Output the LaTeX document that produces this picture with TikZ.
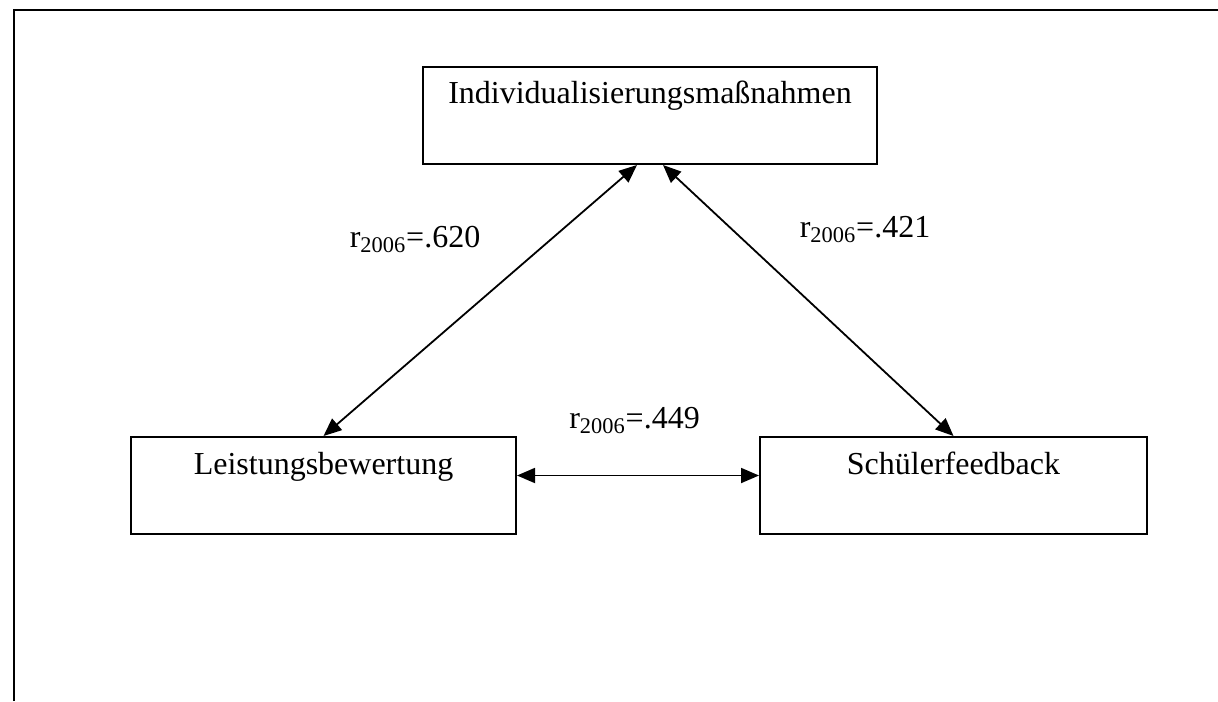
\documentclass[tikz,border=0pt]{standalone}
\usepackage{fontspec}
\setmainfont{Liberation Serif}
\usetikzlibrary{positioning,arrows.meta}

\begin{document}
\begin{tikzpicture}[
  x=0.5pt, y=-0.5pt,
  font=\fontsize{16}{19}\selectfont,
  box/.style={draw, line width=1pt, inner sep=0pt, text height=18.5pt, text depth=30pt},
  dbl/.style={{Triangle[length=9pt,width=7.5pt]}-{Triangle[length=9pt,width=7.5pt]}, line width=0.9pt},
  corr/.style={anchor=base, inner sep=0pt}
]
\useasboundingbox (0,0) rectangle (1218,701);
% frame
\draw[line width=1pt] (13.7,701) -- (13.7,9.7) -- (1218,9.7);
% boxes
\node[box, minimum width=227pt, anchor=north] (indiv) at (650,66) {Individualisierungsmaßnahmen};
\node[box, minimum width=192.5pt, below left=135.5pt and -47.5pt of indiv] (leist) {Leistungsbewertung};
\node[box, minimum width=193.5pt, below right=135.5pt and -59.5pt of indiv] (feedb) {Schülerfeedback};
% correlations
\draw[dbl] ([xshift=-6.5pt]indiv.south) -- (leist.north);
\draw[dbl] ([xshift=6.5pt]indiv.south) -- (feedb.north);
\draw[dbl] ([yshift=5pt]leist.east) -- ([yshift=5pt]feedb.west);
\node[corr] (r1) at (415,247) {r\textsubscript{2006}=.620};
\node[corr] (r2) at (865,237) {r\textsubscript{2006}=.421};
\node[corr] (r3) at (634.5,428) {r\textsubscript{2006}=.449};
\end{tikzpicture}
\end{document}
